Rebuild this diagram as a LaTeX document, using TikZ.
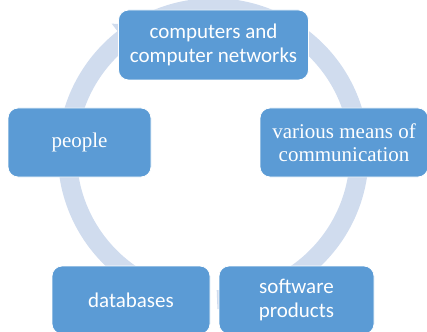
\documentclass[tikz,border=0pt]{standalone}
\usepackage{fontspec}
\setmainfont{Liberation Serif}
\newfontfamily\boxsans{Carlito}
\usetikzlibrary{calc}
\definecolor{boxblue}{RGB}{91,155,213}
\definecolor{ringblue}{RGB}{208,220,238}
\tikzset{
  item/.style={draw=white, line width=0.8pt, fill=boxblue, rounded corners=10pt,
    text=white, align=center, inner sep=0pt},
  sanstext/.style={font=\boxsans\fontsize{21}{24}\selectfont},
  seriftext/.style={font=\rmfamily\fontsize{21}{23}\selectfont},
  ring/.style={draw=ringblue, line width=19pt},
}
\begin{document}
\begin{tikzpicture}[x=1pt, y=1pt]
  \useasboundingbox (0,0) rectangle (427,-331);
  \clip (0,0) rectangle (427,-331);
  % cycle ring, open at the bottom, with its arrowhead into the top item
  \coordinate (c) at (213.25,-153.7);
  \draw[ring] ($(c)+(-88.5:146)$) arc[start angle=-88.5, end angle=264, radius=146];
  \fill[ringblue] ($(c)+(128:127)$) -- ($(c)+(128:165)$) -- ($(c)+(118:146)$) -- cycle;
  % items of the cycle
  \node[item, sanstext, minimum width=190pt, minimum height=70pt] (top) at (213.5,-45)
    {computers and\\computer networks};
  \node[item, seriftext, minimum width=168pt, minimum height=69pt] (right) at (344,-142.5)
    {various means of\\communication};
  \node[item, seriftext, minimum width=143pt, minimum height=69pt] (left) at (79.5,-142.5)
    {people};
  \node[item, sanstext, minimum width=158pt, minimum height=68pt] (dbase) at (131,-300)
    {databases};
  \node[item, sanstext, minimum width=155pt, minimum height=68pt] (soft) at (296.5,-300)
    {software\\products};
\end{tikzpicture}
\end{document}
